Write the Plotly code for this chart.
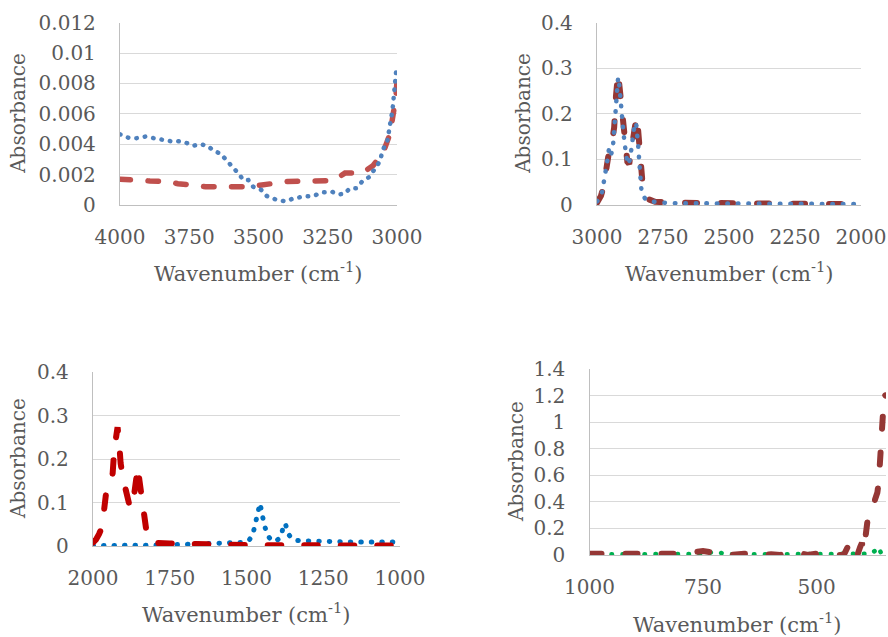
import plotly.graph_objects as go

# ---------------- data ----------------
# Panel 1 (4000-3000 cm-1)
p1_red_x = [4000, 3946, 3892, 3831, 3791, 3736, 3691, 3646, 3600, 3567, 3530, 3495, 3458, 3394,
            3332, 3285, 3231, 3188, 3150, 3126, 3086, 3049, 3025, 3013, 3004, 3000]
p1_red_y = [0.0017, 0.0016, 0.00158, 0.00155, 0.0014, 0.0013, 0.0012, 0.0012, 0.00118, 0.0012,
            0.0012, 0.0013, 0.0014, 0.00155, 0.00158, 0.00158, 0.0016, 0.0021, 0.00213, 0.0021,
            0.0026, 0.0035, 0.0047, 0.006, 0.0071, 0.0082]
p1_blue_x = [4000, 3970, 3940, 3909, 3878, 3846, 3817, 3790, 3762, 3735, 3709, 3685, 3663, 3636,
             3612, 3591, 3570, 3555, 3537, 3519, 3490, 3470, 3439, 3404, 3372, 3338, 3302, 3268,
             3235, 3208, 3188, 3172, 3148, 3124, 3102, 3083, 3061, 3052, 3035, 3016, 3008, 3001]
p1_blue_y = [0.00465, 0.00443, 0.0044, 0.0045, 0.0044, 0.00428, 0.0042, 0.0042, 0.0041, 0.0039,
             0.0040, 0.0039, 0.0036, 0.00336, 0.00288, 0.00248, 0.00202, 0.00165, 0.00165, 0.0012,
             0.00099, 0.00059, 0.00037, 0.00024, 0.00044, 0.00055, 0.0006, 0.00083, 0.00087,
             0.0007, 0.00075, 0.00107, 0.0011, 0.00158, 0.00182, 0.0023, 0.0029, 0.0036, 0.0042,
             0.0063, 0.0077, 0.0092]

# Panel 2 (3000-2000 cm-1)
p2_red_x = [3000, 2985, 2975, 2965, 2955, 2945, 2935, 2928, 2920, 2913, 2905, 2895, 2885, 2878,
            2868, 2858, 2850, 2845, 2838, 2832, 2825, 2815, 2800, 2780, 2700, 2600, 2500, 2400,
            2300, 2200, 2100, 2000]
p2_red_y = [0.005, 0.02, 0.04, 0.09, 0.115, 0.13, 0.17, 0.24, 0.29, 0.25, 0.2, 0.15, 0.095, 0.09,
            0.13, 0.17, 0.195, 0.17, 0.11, 0.06, 0.03, 0.015, 0.01, 0.007, 0.005, 0.004, 0.003,
            0.003, 0.003, 0.002, 0.002, 0.002]
p2_blue_x = [3000, 2990, 2980, 2970, 2960, 2955, 2948, 2940, 2932, 2925, 2920, 2915, 2910, 2900,
             2890, 2883, 2875, 2865, 2858, 2852, 2848, 2844, 2838, 2832, 2825, 2815, 2800, 2780,
             2750, 2700, 2650, 2600, 2550, 2500, 2450, 2400, 2350, 2300, 2250, 2200, 2150, 2100,
             2050, 2000]
p2_blue_y = [0.008, 0.015, 0.03, 0.06, 0.10, 0.122, 0.108, 0.125, 0.18, 0.25, 0.28, 0.26, 0.22,
             0.16, 0.11, 0.089, 0.10, 0.15, 0.175, 0.181, 0.16, 0.13, 0.08, 0.035, 0.02, 0.012,
             0.008, 0.006, 0.005, 0.004, 0.004, 0.003, 0.003, 0.003, 0.003, 0.003, 0.003, 0.003,
             0.002, 0.002, 0.002, 0.002, 0.002, 0.002]

# Panel 3 (2000-1000 cm-1)
p3_red_x = [2000, 1990, 1980, 1972, 1966, 1958, 1945, 1936, 1931, 1925, 1920, 1915, 1910, 1901,
            1890, 1879, 1869, 1860, 1854, 1849, 1841, 1834, 1825, 1814, 1800, 1750, 1700, 1650,
            1600, 1550, 1500, 1450, 1400, 1350, 1300, 1250, 1200, 1150, 1100, 1050, 1000]
p3_red_y = [0.008, 0.015, 0.028, 0.041, 0.07, 0.118, 0.136, 0.167, 0.22, 0.25, 0.273, 0.24, 0.19,
            0.152, 0.113, 0.087, 0.102, 0.144, 0.182, 0.152, 0.106, 0.06, 0.029, 0.01, 0.007,
            0.006, 0.006, 0.005, 0.004, 0.003, 0.002, 0.002, 0.002, 0.002, 0.002, 0.002, 0.001,
            0.001, 0.001, 0.001, 0.001]
p3_blue_x = [2000, 1900, 1800, 1700, 1600, 1550, 1520, 1500, 1490, 1480, 1473, 1468, 1462, 1456,
             1449, 1442, 1431, 1418, 1405, 1392, 1385, 1378, 1372, 1365, 1355, 1340, 1320, 1300,
             1250, 1200, 1150, 1100, 1050, 1000]
p3_blue_y = [0.001, 0.001, 0.002, 0.004, 0.005, 0.006, 0.008, 0.01, 0.015, 0.025, 0.045, 0.07,
             0.088, 0.098, 0.073, 0.048, 0.024, 0.012, 0.011, 0.018, 0.03, 0.052, 0.048, 0.03,
             0.018, 0.013, 0.012, 0.012, 0.011, 0.01, 0.009, 0.009, 0.009, 0.009]

# Panel 4 (1000-~350 cm-1)
p4_red_x = [1000, 960, 920, 880, 840, 800, 770, 750, 730, 710, 690, 660, 630, 600, 580, 560, 540,
            520, 500, 480, 460, 440, 430, 426, 420, 414, 410, 404, 400, 396, 392, 388, 382, 376,
            371, 366, 363, 361, 359, 357, 355, 353, 351, 348]
p4_red_y = [0.01, 0.01, 0.005, 0.01, 0.01, 0.01, 0.02, 0.03, 0.02, 0.005, 0.0, 0.01, -0.005,
            0.005, 0.0, 0.02, 0.02, 0.0, 0.01, 0.0, -0.005, 0.0, 0.07, 0.1, 0.085, 0.04, 0.0,
            0.06, 0.09, 0.03, 0.15, 0.25, 0.3, 0.33, 0.42, 0.47, 0.55, 0.7, 0.85, 1.0, 1.12, 1.2,
            1.21, 1.2]
p4_green_x = [1000, 950, 900, 850, 800, 750, 720, 700, 650, 600, 550, 500, 450, 420, 400, 390,
              380, 372, 366, 362, 356, 350, 347]
p4_green_y = [0.005, 0.005, 0.005, 0.005, 0.005, 0.008, 0.025, 0.005, 0.005, 0.005, 0.005, 0.005,
              0.005, 0.006, 0.005, 0.005, 0.01, 0.03, 0.06, 0.04, 0.005, 0.0, 0.0]

# tick labels
p1_xticks = [4000, 3750, 3500, 3250, 3000]
p1_yticks = [0, 0.002, 0.004, 0.006, 0.008, 0.01, 0.012]
p1_ytext = ["0", "0.002", "0.004", "0.006", "0.008", "0.01", "0.012"]
p2_xticks = [3000, 2750, 2500, 2250, 2000]
p2_yticks = [0, 0.1, 0.2, 0.3, 0.4]
p2_ytext = ["0", "0.1", "0.2", "0.3", "0.4"]
p3_xticks = [2000, 1750, 1500, 1250, 1000]
p3_yticks = [0, 0.1, 0.2, 0.3, 0.4]
p3_ytext = ["0", "0.1", "0.2", "0.3", "0.4"]
p4_xticks = [1000, 750, 500]
p4_yticks = [0, 0.2, 0.4, 0.6, 0.8, 1.0, 1.2, 1.4]
p4_ytext = ["0", "0.2", "0.4", "0.6", "0.8", "1", "1.2", "1.4"]

x_title = "Wavenumber (cm<sup>-1</sup>)"
y_title = "Absorbance"

# ---------------- figure ----------------
W, H = 888, 637
FONT = "DejaVu Serif"
TXT = "#595959"
GRID = "#D9D9D9"
AXL = "#BFBFBF"

fig = go.Figure()

def line(x, y, color, width, dash, xa, ya):
    fig.add_trace(go.Scatter(x=x, y=y, mode="lines", xaxis=xa, yaxis=ya,
                             line=dict(color=color, width=width, dash=dash),
                             showlegend=False, hoverinfo="skip"))

# round caps are applied via CSS (see post_script), so dash lengths exclude the cap
line(p1_red_x, p1_red_y, "#C0504D", 5.5, "10.5px,17.5px", "x", "y")
line(p1_blue_x, p1_blue_y, "#4F81BD", 4.5, "0.5px,8px", "x", "y")
line(p2_red_x, p2_red_y, "#953735", 6, "12px,24px", "x2", "y2")
line(p2_blue_x, p2_blue_y, "#4F81BD", 4.5, "0.5px,10px", "x2", "y2")
line(p3_blue_x, p3_blue_y, "#0070C0", 5, "0.5px,10px", "x3", "y3")
line(p3_red_x, p3_red_y, "#C00000", 6, "13.5px,23px", "x3", "y3")
line(p4_green_x, p4_green_y, "#00B050", 4.5, "0.5px,10.5px", "x4", "y4")
line(p4_red_x, p4_red_y, "#953735", 6, "12px,24px", "x4", "y4")

def px(v):
    return v / W

def py(v):
    return 1 - v / H

panels = [
    # (xdomain px, ydomain px (top,bottom), xrange, xticks, yrange, yticks, ytext)
    ((120, 397), (22.7, 205), [4000, 3000], p1_xticks, [0, 0.012], p1_yticks, p1_ytext),
    ((597, 861), (22.7, 205), [3000, 2000], p2_xticks, [0, 0.4], p2_yticks, p2_ytext),
    ((93, 400), (372, 546), [2000, 1000], p3_xticks, [0, 0.4], p3_yticks, p3_ytext),
    ((589.5, 886), (369, 555), [1000, 347], p4_xticks, [0, 1.4], p4_yticks, p4_ytext),
]

layout = dict(
    template="none",
    width=W, height=H, margin=dict(l=0, r=0, t=0, b=0, pad=0),
    paper_bgcolor="white", plot_bgcolor="white",
    font=dict(family=FONT, size=20, color=TXT),
    showlegend=False,
)
annotations = []
for i, (xd, yd, xr, xt, yr, yt, ytx) in enumerate(panels):
    sfx = "" if i == 0 else str(i + 1)
    layout["xaxis" + sfx] = dict(
        domain=[px(xd[0]), px(xd[1])], range=xr, anchor="y" + sfx, automargin=False,
        tickmode="array", tickvals=xt, ticktext=[str(v) for v in xt],
        showgrid=False, zeroline=False, showline=True, linecolor=AXL, linewidth=1.3,
        ticks="outside", ticklen=14, tickcolor="rgba(0,0,0,0)",
        tickfont=dict(family=FONT, size=20, color=TXT), fixedrange=True,
    )
    layout["yaxis" + sfx] = dict(
        domain=[py(yd[1]), py(yd[0])], range=yr, anchor="x" + sfx, automargin=False,
        tickmode="array", tickvals=yt, ticktext=ytx,
        showgrid=True, gridcolor=GRID, gridwidth=1.3,
        zeroline=False, showline=True, linecolor=AXL, linewidth=1.3,
        ticks="outside", ticklen=19, tickcolor="rgba(0,0,0,0)",
        tickfont=dict(family=FONT, size=20, color=TXT), fixedrange=True,
    )
    cx = (xd[0] + xd[1]) / 2
    cy = (yd[0] + yd[1]) / 2
    annotations.append(dict(text=x_title, x=px(cx), y=py(yd[1] + 67 + (1 if i == 3 else 0)),
                            xref="paper", yref="paper", xanchor="center", yanchor="middle",
                            showarrow=False, font=dict(family=FONT, size=21, color=TXT)))
    ytx_pos = [18, 523, 18, 516][i]
    annotations.append(dict(text=y_title, x=px(ytx_pos), y=py(cy), textangle=-90,
                            xref="paper", yref="paper", xanchor="center", yanchor="middle",
                            showarrow=False, font=dict(family=FONT, size=20, color=TXT)))

layout["annotations"] = annotations
fig.update_layout(**layout)

round_caps = (
    "var s=document.createElement('style');"
    "s.innerHTML='.scatterlayer path.js-line{stroke-linecap:round !important;}';"
    "document.head.appendChild(s);"
)
fig.write_html("out.html", post_script=round_caps)
